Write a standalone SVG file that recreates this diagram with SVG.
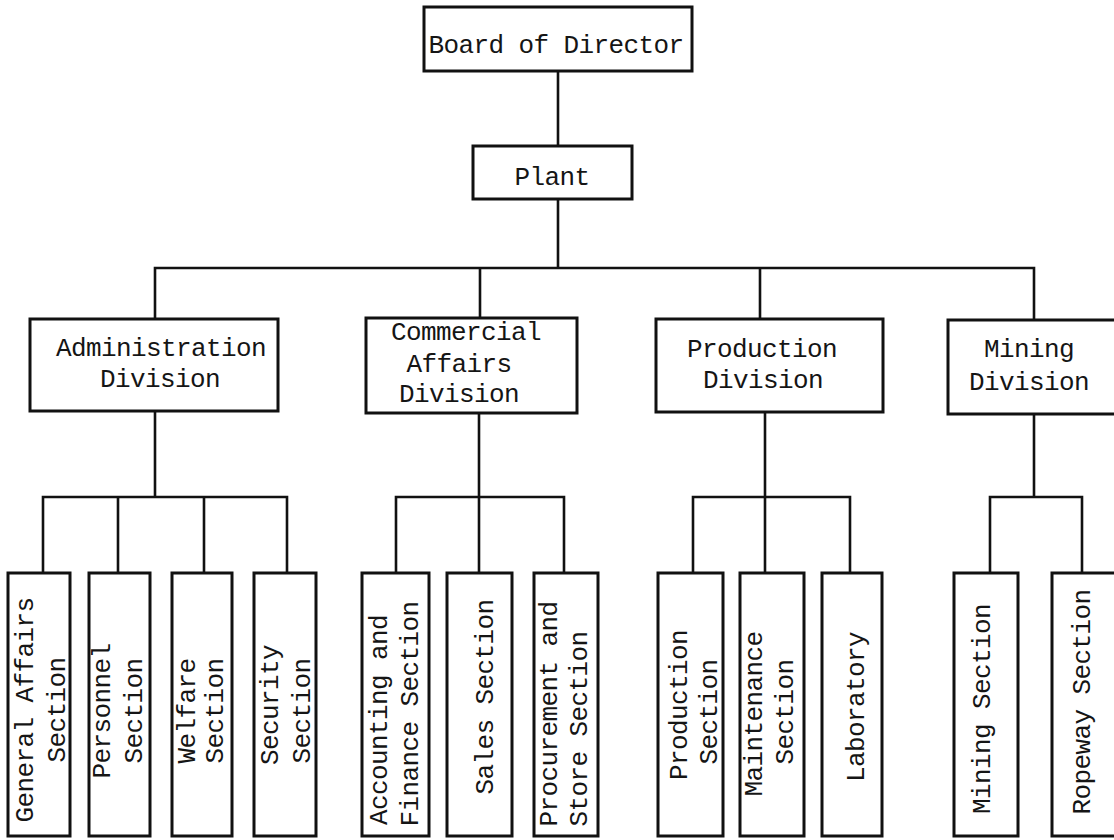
<svg xmlns="http://www.w3.org/2000/svg" width="1114" height="840" viewBox="0 0 1114 840">
<style>
.box{fill:#fff;stroke:#111;stroke-width:3}
.ln{fill:none;stroke:#111;stroke-width:2.6;stroke-linecap:square}
text{font-family:"Liberation Mono","DejaVu Sans Mono",monospace;font-size:26px;letter-spacing:-0.6px;fill:#151515;text-anchor:middle}
</style>
<rect width="1114" height="840" fill="#fff"/>
<g id="connectors">
<path class="ln" d="M558 71V146M558 199V268M155 268H1034M155 268V319M480 268V318M760 268V319M1034 268V320"/>
<path class="ln" d="M155 411V497M43 497H287M43 497V573M118 497V573M204 497V573M287 497V573"/>
<path class="ln" d="M479 413V573M396 497H564M396 497V573M564 497V573"/>
<path class="ln" d="M765 412V573M693 497H850M693 497V573M850 497V573"/>
<path class="ln" d="M1034 414V497M990 497H1082M990 497V573M1082 497V573"/>
</g>
<g id="board"><rect class="box" x="424" y="7" width="268" height="64"/><text x="556" y="53">Board of Director</text></g>
<g id="plant"><rect class="box" x="473" y="146" width="159" height="53"/><text x="552" y="185">Plant</text></g>
<g id="admin"><rect class="box" x="30" y="319" width="248" height="92"/><text x="161" y="356">Administration</text><text x="160" y="387">Division</text></g>
<g id="commercial"><rect class="box" x="366" y="318" width="211" height="95"/><text x="466" y="340">Commercial</text><text x="459" y="372">Affairs</text><text x="459" y="402">Division</text></g>
<g id="production"><rect class="box" x="656" y="319" width="227" height="93"/><text x="762" y="357">Production</text><text x="763" y="388">Division</text></g>
<g id="mining"><rect class="box" x="948" y="320" width="172" height="94"/><text x="1029" y="357">Mining</text><text x="1029" y="390">Division</text></g>
<g id="general-affairs"><rect class="box" x="8" y="573" width="62" height="263"/><text transform="translate(33,710) rotate(-90)">General Affairs</text><text transform="translate(65,710) rotate(-90)">Section</text></g>
<g id="personnel"><rect class="box" x="89" y="573" width="61" height="263"/><text transform="translate(110,711) rotate(-90)">Personnel</text><text transform="translate(142,711) rotate(-90)">Section</text></g>
<g id="welfare"><rect class="box" x="172" y="573" width="60" height="263"/><text transform="translate(195,711) rotate(-90)">Welfare</text><text transform="translate(223,711) rotate(-90)">Section</text></g>
<g id="security"><rect class="box" x="254" y="573" width="62" height="263"/><text transform="translate(278,705) rotate(-90)">Security</text><text transform="translate(310,711) rotate(-90)">Section</text></g>
<g id="accounting"><rect class="box" x="362" y="573" width="67" height="263"/><text transform="translate(387,720) rotate(-90)">Accounting and</text><text transform="translate(418,714) rotate(-90)">Finance Section</text></g>
<g id="sales"><rect class="box" x="447" y="573" width="65" height="263"/><text transform="translate(493,697) rotate(-90)">Sales Section</text></g>
<g id="procurement"><rect class="box" x="534" y="573" width="64" height="263"/><text transform="translate(557,714) rotate(-90)">Procurement and</text><text transform="translate(587,729) rotate(-90)">Store Section</text></g>
<g id="production-section"><rect class="box" x="658" y="573" width="65" height="263"/><text transform="translate(687,705) rotate(-90)">Production</text><text transform="translate(717,712) rotate(-90)">Section</text></g>
<g id="maintenance"><rect class="box" x="740" y="573" width="64" height="263"/><text transform="translate(762,714) rotate(-90)">Maintenance</text><text transform="translate(793,712) rotate(-90)">Section</text></g>
<g id="laboratory"><rect class="box" x="822" y="573" width="60" height="263"/><text transform="translate(864,707) rotate(-90)">Laboratory</text></g>
<g id="mining-section"><rect class="box" x="954" y="573" width="64" height="263"/><text transform="translate(990,709) rotate(-90)">Mining Section</text></g>
<g id="ropeway"><rect class="box" x="1052" y="573" width="70" height="263"/><text transform="translate(1090,702) rotate(-90)">Ropeway Section</text></g>
</svg>
